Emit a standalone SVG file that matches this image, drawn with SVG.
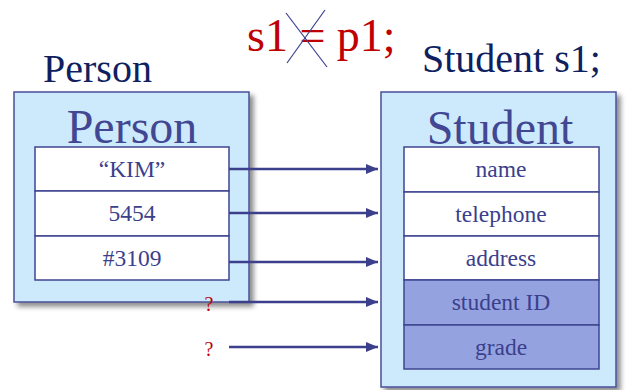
<svg xmlns="http://www.w3.org/2000/svg" width="636" height="390" viewBox="0 0 636 390">
<defs>
<filter id="sh" x="-10%" y="-10%" width="130%" height="130%">
<feGaussianBlur in="SourceAlpha" stdDeviation="2.5"/>
<feOffset dx="4" dy="4" result="b"/>
<feComponentTransfer><feFuncA type="linear" slope="0.45"/></feComponentTransfer>
<feMerge><feMergeNode/><feMergeNode in="SourceGraphic"/></feMerge>
</filter>
<marker id="ah" markerWidth="12" markerHeight="10" refX="12" refY="5" orient="auto" markerUnits="userSpaceOnUse">
<path d="M0,0 L12,5 L0,10 Z" fill="#3b3f8c"/>
</marker>
</defs>
<text x="247" y="51" font-size="46" font-family="Liberation Serif" fill="#c00000">s1 = p1;</text>
<g stroke="#3a3f8f" stroke-width="1.2">
<line x1="286" y1="13" x2="327" y2="67"/>
<line x1="325" y1="10" x2="287" y2="63"/>
</g>
<text x="43" y="82" font-size="40" font-family="Liberation Serif" fill="#0f1f5f">Person</text>
<text x="422" y="72" font-size="40" font-family="Liberation Serif" fill="#0f1f5f">Student s1;</text>
<g id="person">
<rect x="14" y="92" width="235" height="210" fill="#cceafc" stroke="#4a4f9a" stroke-width="1.5" filter="url(#sh)"/>
<text x="132" y="143" font-size="48" font-family="Liberation Serif" fill="#414792" text-anchor="middle">Person</text>
<g fill="#ffffff" stroke="#3f4590" stroke-width="1.5">
<rect x="35" y="147" width="194" height="44"/>
<rect x="35" y="191" width="194" height="45"/>
<rect x="35" y="236" width="194" height="44"/>
</g>
<g font-size="23.5" font-family="Liberation Serif" fill="#3c3f8c" text-anchor="middle">
<text x="132" y="177" font-family="Liberation Serif">“KIM”</text>
<text x="132" y="221" font-family="Liberation Serif">5454</text>
<text x="132" y="266" font-family="Liberation Serif">#3109</text>
</g>
</g>
<g id="student">
<rect x="381" y="92" width="235" height="295" fill="#cceafc" stroke="#4a4f9a" stroke-width="1.5" filter="url(#sh)"/>
<text x="500" y="144" font-size="48" font-family="Liberation Serif" fill="#414792" text-anchor="middle">Student</text>
<g fill="#ffffff" stroke="#3f4590" stroke-width="1.5">
<rect x="404" y="147" width="195" height="45"/>
<rect x="404" y="192" width="195" height="44"/>
<rect x="404" y="236" width="195" height="44"/>
</g>
<g fill="#94a3e0" stroke="#3f4590" stroke-width="1.5">
<rect x="404" y="280" width="195" height="45"/>
<rect x="404" y="325" width="195" height="44"/>
</g>
<g font-size="23.5" font-family="Liberation Serif" fill="#3c3f8c" text-anchor="middle">
<text x="501" y="177" font-family="Liberation Serif">name</text>
<text x="501" y="222" font-family="Liberation Serif">telephone</text>
<text x="501" y="266" font-family="Liberation Serif">address</text>
<text x="501" y="310" font-family="Liberation Serif">student ID</text>
<text x="501" y="355" font-family="Liberation Serif">grade</text>
</g>
</g>
<g id="connectors" stroke="#3b3f8c" stroke-width="2.5" fill="none" marker-end="url(#ah)">
<line x1="229" y1="169" x2="378" y2="169"/>
<line x1="229" y1="213" x2="378" y2="213"/>
<line x1="229" y1="262" x2="378" y2="262"/>
<line x1="229" y1="302" x2="378" y2="302"/>
<line x1="229" y1="347" x2="378" y2="347"/>
</g>
<text x="209" y="311" font-size="20" font-family="Liberation Serif" fill="#c00000" text-anchor="middle">?</text>
<text x="209" y="356" font-size="20" font-family="Liberation Serif" fill="#c00000" text-anchor="middle">?</text>
</svg>
